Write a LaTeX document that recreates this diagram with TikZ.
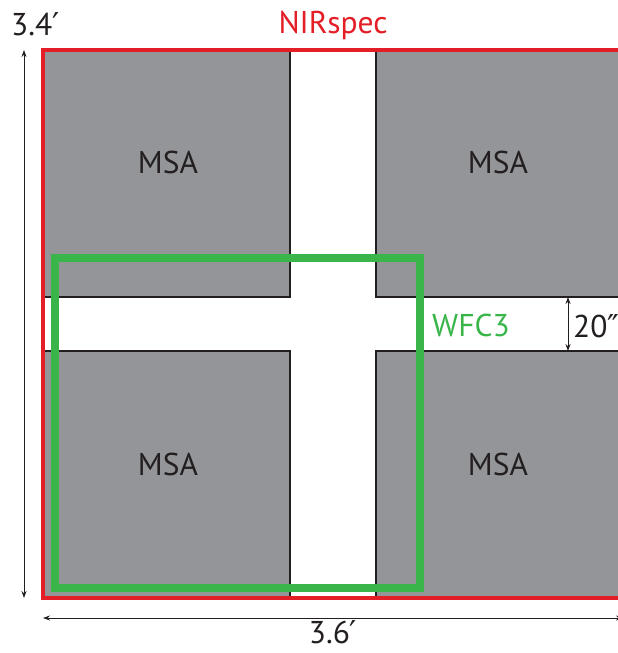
\documentclass[tikz,border=0pt]{standalone}
\usepackage{fontspec}
\setmainfont{PT Sans}
\newfontfamily\symf{DejaVu Sans}
\usetikzlibrary{arrows.meta}
\definecolor{msagray}{RGB}{147,149,152}
\definecolor{nirred}{RGB}{228,30,38}
\definecolor{wfcgreen}{RGB}{57,181,74}
\definecolor{txt}{RGB}{35,31,32}
\tikzset{
  block/.style={fill=msagray, draw=txt, line width=1.4pt},
  lbl/.style={font=\fontsize{31.5}{36}\selectfont, text=txt, inner sep=0pt},
  dimarrow/.style={draw=txt, line width=0.9pt, {Stealth[length=7pt,width=5pt]}-{Stealth[length=7pt,width=5pt]}}
}
\begin{document}
\begin{tikzpicture}[x=1pt,y=-1pt]
\useasboundingbox (0,0) rectangle (618,653);
\clip (0,0) rectangle (618,653);
\fill[white] (0,0) rectangle (618,653);
% MSA quadrants
\draw[block] (43,50) rectangle (290,297);
\draw[block] (376,50) rectangle (623,297);
\draw[block] (43,351) rectangle (290,598);
\draw[block] (376,351) rectangle (623,598);
\node[lbl, anchor=base] (msa1) at (168,173) {MSA};
\node[lbl, anchor=base] (msa2) at (498,173) {MSA};
\node[lbl, anchor=base] (msa3) at (168,475) {MSA};
\node[lbl, anchor=base] (msa4) at (498,475) {MSA};
% NIRspec frame
\draw[nirred, line width=4pt] (43,50) rectangle (623,598);
\node[lbl, text=nirred, anchor=base] (nir) at (333,33) {NIRspec};
% WFC3 frame
\draw[wfcgreen, line width=8.5pt] (55,258) rectangle (420,588);
\node[lbl, text=wfcgreen, anchor=base west] (wfc) at (432,336) {WFC3};
% dimensions
\coordinate (vtop) at (24,50);
\coordinate (vbot) at (24,598);
\draw[dimarrow] (vtop) -- (vbot);
\node[lbl, anchor=base west] (d34) at (11,35) {3.4{\symf ′}};
\coordinate (hl) at (43,618);
\coordinate (hr) at (623,618);
\draw[dimarrow] (hl) -- (hr);
\node[lbl, anchor=base] (d36) at (333,643) {3.6{\symf ′}};
\coordinate (gtop) at (568,297);
\coordinate (gbot) at (568,351);
\draw[dimarrow] (gtop) -- (gbot);
\node[lbl, anchor=base west] (d20) at (573,337) {20{\symf ″}};
\end{tikzpicture}
\end{document}
